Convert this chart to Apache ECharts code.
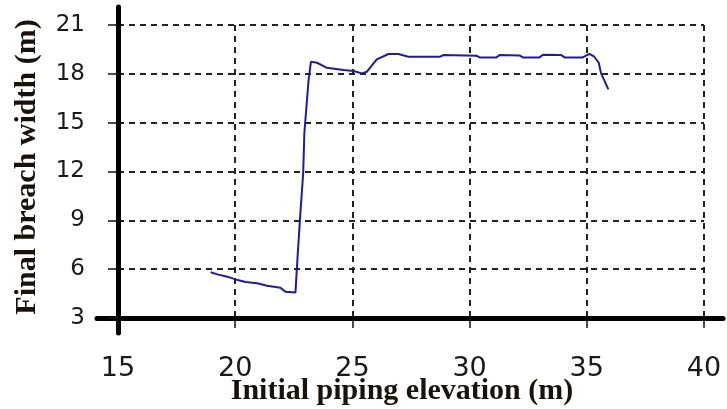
<!DOCTYPE html>
<html>
<head>
<meta charset="utf-8">
<script src="https://cdn.jsdelivr.net/npm/echarts@6/dist/echarts.min.js"></script>
<style>
  html, body { margin: 0; padding: 0; background: #fff; }
  #chart { width: 727px; height: 409px; }
</style>
</head>
<body>
<div id="chart"></div>
<script>
// Data
const elevation = [18.95, 19.24, 19.66, 20.02, 20.44, 20.94, 21.36, 21.93, 22.14, 22.57,
  22.61, 22.67, 22.78, 22.90, 22.95, 23.04, 23.13, 23.23, 23.49, 23.91, 24.62, 25.05,
  25.40, 25.62, 26.04, 26.54, 26.96, 27.39, 28.73, 28.88, 30.29, 30.43, 31.14, 31.28,
  32.13, 32.27, 32.98, 33.13, 33.91, 34.05, 34.83, 35.11, 35.32, 35.51, 35.61, 35.92];
const breachWidth = [5.81, 5.68, 5.54, 5.37, 5.21, 5.13, 4.98, 4.86, 4.62, 4.56,
  5.54, 6.97, 9.43, 11.89, 14.35, 15.98, 17.62, 18.74, 18.68, 18.37, 18.23, 18.17,
  18.03, 18.13, 18.89, 19.22, 19.22, 19.05, 19.05, 19.15, 19.11, 19.01, 19.01, 19.15,
  19.13, 19.01, 19.01, 19.17, 19.15, 19.01, 19.01, 19.22, 19.05, 18.68, 18.03, 17.05];
const xTicks = [15, 20, 25, 30, 35, 40];
const yTicks = [3, 6, 9, 12, 15, 18, 21];
const xTitle = 'Initial piping elevation (m)';
const yTitle = 'Final breach width (m)';

const chart = echarts.init(document.getElementById('chart'), null, { renderer: 'canvas' });
const seriesData = elevation.map((x, i) => [x, breachWidth[i]]);
const dashed = { type: [6, 5], color: '#222', width: 2 };
const sansFamily = 'DejaVu Sans, Arial, sans-serif';
const titleFont = { color: '#1a1208', fontFamily: 'Liberation Serif, Times New Roman, serif', fontWeight: 'bold', fontSize: 30 };

chart.setOption({
  animation: false,
  backgroundColor: '#fff',
  grid: [
    { left: 118, right: 23, top: 25, bottom: 91, containLabel: false, outerBoundsMode: 'none' },
    { left: 97, right: 4, top: 25, bottom: 91, containLabel: false, outerBoundsMode: 'none' },
    { left: 118, right: 23, top: 7, bottom: 76, containLabel: false, outerBoundsMode: 'none' }
  ],
  xAxis: [
    {
      type: 'value', gridIndex: 0,
      min: xTicks[0], max: xTicks[xTicks.length - 1], interval: 5,
      name: xTitle, nameLocation: 'middle', nameGap: 58, nameMoveOverlap: false,
      nameTextStyle: Object.assign({ padding: [0, 18, 0, 0] }, titleFont),
      axisLine: { show: false },
      axisTick: { show: true, inside: false, length: 10, lineStyle: { color: '#111', width: 1.5 } },
      axisLabel: { margin: 37, color: '#1a1a1a', fontFamily: sansFamily, fontSize: 27 },
      splitLine: { show: true, showMinLine: false, lineStyle: dashed }
    },
    { type: 'value', gridIndex: 1, min: 0, max: 1,
      axisLine: { show: true, onZero: false, lineStyle: { color: '#000', width: 5 } },
      axisTick: { show: false }, axisLabel: { show: false }, splitLine: { show: false } },
    { type: 'value', gridIndex: 2, min: 0, max: 1, show: false }
  ],
  yAxis: [
    {
      type: 'value', gridIndex: 0,
      min: yTicks[0], max: yTicks[yTicks.length - 1], interval: 3,
      name: yTitle, nameLocation: 'middle', nameGap: 76, nameMoveOverlap: false,
      nameTextStyle: Object.assign({ padding: [0, 0, 0, 9] }, titleFont),
      axisLine: { show: false },
      axisTick: { show: true, length: 10, lineStyle: { color: '#111', width: 1.5 } },
      axisLabel: { margin: 33, color: '#1a1a1a', fontFamily: sansFamily, fontSize: 23 },
      splitLine: { show: true, showMinLine: false, lineStyle: dashed }
    },
    { type: 'value', gridIndex: 1, min: 0, max: 1, show: false },
    { type: 'value', gridIndex: 2, min: 0, max: 1,
      axisLine: { show: true, onZero: false, lineStyle: { color: '#000', width: 5 } },
      axisTick: { show: false }, axisLabel: { show: false }, splitLine: { show: false } }
  ],
  series: [{
    type: 'line',
    xAxisIndex: 0, yAxisIndex: 0,
    data: seriesData,
    showSymbol: false,
    lineStyle: { color: '#1c1ca0', width: 2 },
    z: 5
  }]
});
</script>
</body>
</html>
